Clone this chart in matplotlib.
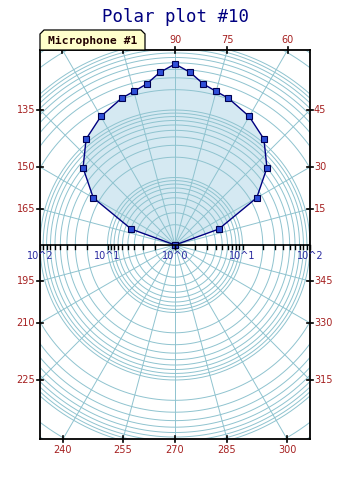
import numpy as np
import matplotlib.pyplot as plt
from matplotlib.patches import Polygon

# microphone response, angle (deg) -> value (log radial scale, 1 at centre)
angles = [0, 20, 30, 40, 50, 60, 70, 75, 80, 85, 90,
          95, 100, 105, 110, 120, 130, 140, 150, 160, 180]
values = [1, 4.9, 25, 60, 112, 158, 206, 227, 264, 370, 480,
          370, 264, 227, 206, 158, 112, 60, 25, 4.9, 1]

angle_labels = list(range(0, 360, 15))
hidden_labels = [0, 105, 120, 180]  # on the axis or under the legend tab
radial_labels = ['10^2', '10^1', '10^0', '10^1', '10^2']
radial_pos = [-2, -1, 0, 1, 2]

W, H = 350, 480
fig = plt.figure(figsize=(W / 100, H / 100), dpi=100)

# plot rectangle in pixels
left, right, top, bottom = 40, 310, 50, 439
cx, cy = 175, 245
ppd = (right - left) / 4.0  # pixels per decade
ax = fig.add_axes([left / W, 1 - bottom / H, (right - left) / W, (bottom - top) / H])
ax.set_xlim((left - cx) / ppd, (right - cx) / ppd)
ax.set_ylim((cy - bottom) / ppd, (cy - top) / ppd)
ax.set_xticks([])
ax.set_yticks([])
for s in ax.spines.values():
    s.set_linewidth(1.3)
    s.set_color('black')
    s.set_zorder(6)

grid_col = '#8fc3cf'

# data -> cartesian
th = np.radians(angles)
rr = np.log10(values)
px = rr * np.cos(th)
py = rr * np.sin(th)
ax.fill(px, py, color='#d5e9f2', zorder=1, lw=0)

# concentric circles at log ticks
t = np.linspace(0, 2 * np.pi, 400)
for d in range(0, 4):
    for k in range(1, 10):
        r = np.log10(k * 10 ** d)
        if r <= 0 or r > 3.6:
            continue
        ax.plot(r * np.cos(t), r * np.sin(t), color=grid_col, lw=0.7, zorder=2)

# spokes
for a in angle_labels:
    ar = np.radians(a)
    ax.plot([0, 5 * np.cos(ar)], [0, 5 * np.sin(ar)], color=grid_col, lw=0.7, zorder=2)

ax.plot(px, py, color='#000080', lw=1, zorder=4)
ax.plot(px, py, ls='none', marker='s', ms=4.2, mfc='#2f4fd8', mec='#000050',
        mew=0.8, zorder=5)

# horizontal radial axis
x0, x1 = ax.get_xlim()
y0, y1 = ax.get_ylim()
ax.plot([x0, x1], [0, 0], color='black', lw=1.2, zorder=6)
tl = 4 / ppd
for d in range(0, 2):
    for k in range(1, 10):
        r = np.log10(k * 10 ** d)
        for sgn in (-1, 1):
            ax.plot([sgn * r, sgn * r], [0, -tl], color='black', lw=1, zorder=6,
                    clip_on=False)
for sgn in (-1, 1):
    ax.plot([sgn * 2, sgn * 2], [0, -tl], color='black', lw=1, zorder=6, clip_on=False)
for p, lab in zip(radial_pos, radial_labels):
    ax.text(p, -11 / ppd, lab, color='#2a2aa0', fontsize=7, ha='center', va='center',
            zorder=7, clip_on=False)

# angle labels where spokes meet the border
tk = 3 / ppd
for a in angle_labels:
    if a % 180 == 0:
        continue
    ar = np.radians(a)
    c, s = np.cos(ar), np.sin(ar)
    cand = []
    if c > 1e-9:
        cand.append((x1 / c, 'r'))
    if c < -1e-9:
        cand.append((x0 / c, 'l'))
    if s > 1e-9:
        cand.append((y1 / s, 't'))
    if s < -1e-9:
        cand.append((y0 / s, 'b'))
    dist, side = min(cand)
    ex, ey = dist * c, dist * s
    off = 10 / ppd
    show = a not in hidden_labels
    if side == 't':
        ax.plot([ex, ex], [ey - tk, ey + tk], color='black', lw=1.2, clip_on=False, zorder=6)
        if show:
            ax.text(ex, ey + off, str(a), ha='center', va='center', color='#a52020',
                    fontsize=7, clip_on=False)
    elif side == 'b':
        ax.plot([ex, ex], [ey - tk, ey + tk], color='black', lw=1.2, clip_on=False, zorder=6)
        ax.text(ex, ey - off - 1 / ppd, str(a), ha='center', va='center', color='#a52020',
                fontsize=7, clip_on=False)
    elif side == 'l':
        ax.plot([ex - tk, ex + tk], [ey, ey], color='black', lw=1.2, clip_on=False, zorder=6)
        ax.text(ex - 5 / ppd, ey, str(a), ha='right', va='center', color='#a52020',
                fontsize=7, clip_on=False)
    else:
        ax.plot([ex - tk, ex + tk], [ey, ey], color='black', lw=1.2, clip_on=False, zorder=6)
        ax.text(ex + 4 / ppd, ey, str(a), ha='left', va='center', color='#a52020',
                fontsize=7, clip_on=False)

# legend tab
pts = [(40, 50), (40, 34), (44, 30), (141, 30), (145, 34), (145, 50)]
tab = Polygon([(x / W, 1 - y / H) for x, y in pts], closed=True, transform=fig.transFigure,
              facecolor='#ffffcc', edgecolor='black', lw=0.9, zorder=10)
fig.patches.append(tab)
fig.text(92.5 / W, 1 - 40.5 / H, 'Microphone #1', family='DejaVu Sans Mono',
         fontweight='bold', fontsize=8.2, color='#200000', ha='center', va='center',
         zorder=11)

fig.text(176 / W, 1 - 22 / H, 'Polar plot #10', family='DejaVu Sans Mono', fontsize=12.5,
         color='#000080', ha='center', va='baseline')

fig.savefig('out.png', dpi=100)
